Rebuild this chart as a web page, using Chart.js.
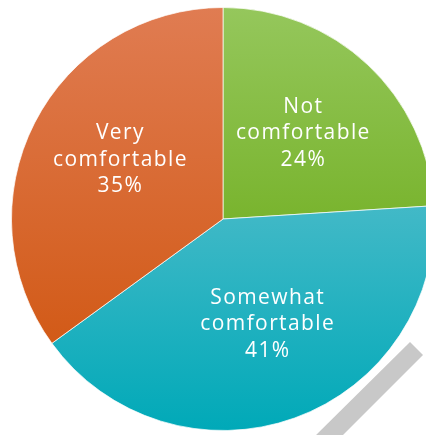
<!DOCTYPE html>
<html>
<head>
<meta charset="utf-8">
<script src="https://cdn.jsdelivr.net/npm/chart.js@4"></script>
<style>
  html, body { margin: 0; padding: 0; background: #fff; overflow: hidden; }
  #wrap { position: relative; width: 446px; height: 438px; }
</style>
</head>
<body>
<div id="wrap"><canvas id="pie"></canvas></div>
<script>
// Data.
const categories = ['Not comfortable', 'Somewhat comfortable', 'Very comfortable'];
const labelLines = [['Not', 'comfortable'], ['Somewhat', 'comfortable'], ['Very', 'comfortable']];
const shares = [24, 41, 35];

// Top/bottom colours of each slice's vertical gradient, and the span (fraction of chart area) it covers.
const gradStops = [
    ['#95c75c', '#79b42e'],
    ['#42b9c7', '#00a9b8'],
    ['#e07c52', '#d25a17'],
];
const gradSpan = [[0, 0.5], [0.47, 1], [0, 0.8]];

// Small nudges so labels sit where the reference has them.
const labelNudge = [[0, 0], [5, -5], [2, -6]];

function sliceGradient(ctx) {
    const chart = ctx.chart;
    const area = chart.chartArea;
    if (!area) return gradStops[ctx.dataIndex][1];
    const h = area.bottom - area.top;
    const [f0, f1] = gradSpan[ctx.dataIndex];
    const g = chart.ctx.createLinearGradient(0, area.top + f0 * h, 0, area.top + f1 * h);
    const [a, b] = gradStops[ctx.dataIndex];
    g.addColorStop(0, a);
    g.addColorStop(1, b);
    return g;
}

// Grey handle under the lens (magnifying-glass look).
const handle = {
    id: 'handle',
    beforeDraw(chart) {
        const c = chart.ctx;
        c.save();
        c.fillStyle = '#c8c8c8';
        c.beginPath();
        c.moveTo(410, 342);
        c.lineTo(423, 355);
        c.lineTo(340, 438);
        c.lineTo(313, 438);
        c.closePath();
        c.fill();
        c.restore();
    },
};

// White in-slice labels: name lines + percentage.
const sliceLabels = {
    id: 'sliceLabels',
    afterDatasetsDraw(chart) {
        const c = chart.ctx;
        const meta = chart.getDatasetMeta(0);
        c.save();
        c.fillStyle = '#ffffff';
        c.font = '400 21px "Open Sans", sans-serif';
        c.letterSpacing = '1.4px';
        c.textAlign = 'center';
        c.textBaseline = 'middle';
        meta.data.forEach((arc, i) => {
            const { x, y, startAngle, endAngle, outerRadius } = arc.getProps(['x', 'y', 'startAngle', 'endAngle', 'outerRadius'], true);
            const mid = (startAngle + endAngle) / 2;
            const r = outerRadius * 0.555;
            const cx = x + Math.cos(mid) * r + labelNudge[i][0];
            const cy = y + Math.sin(mid) * r + labelNudge[i][1];
            const lines = [...labelLines[i], shares[i] + '%'];
            const lh = 26.5;
            lines.forEach((t, k) => c.fillText(t, cx, cy + (k - (lines.length - 1) / 2) * lh));
        });
        c.restore();
    },
};

new Chart(document.getElementById('pie'), {
    type: 'pie',
    data: {
        labels: categories,
        datasets: [{
            data: shares,
            backgroundColor: sliceGradient,
            borderColor: 'rgba(255,255,255,0.7)',
            borderWidth: 1,
        }],
    },
    options: {
        responsive: true,
        maintainAspectRatio: false,
        animation: false,
        layout: { padding: { left: 11, right: 11, top: 7, bottom: 7 } },
        plugins: { legend: { display: false }, tooltip: { enabled: false } },
    },
    plugins: [handle, sliceLabels],
});
</script>
</body>
</html>
